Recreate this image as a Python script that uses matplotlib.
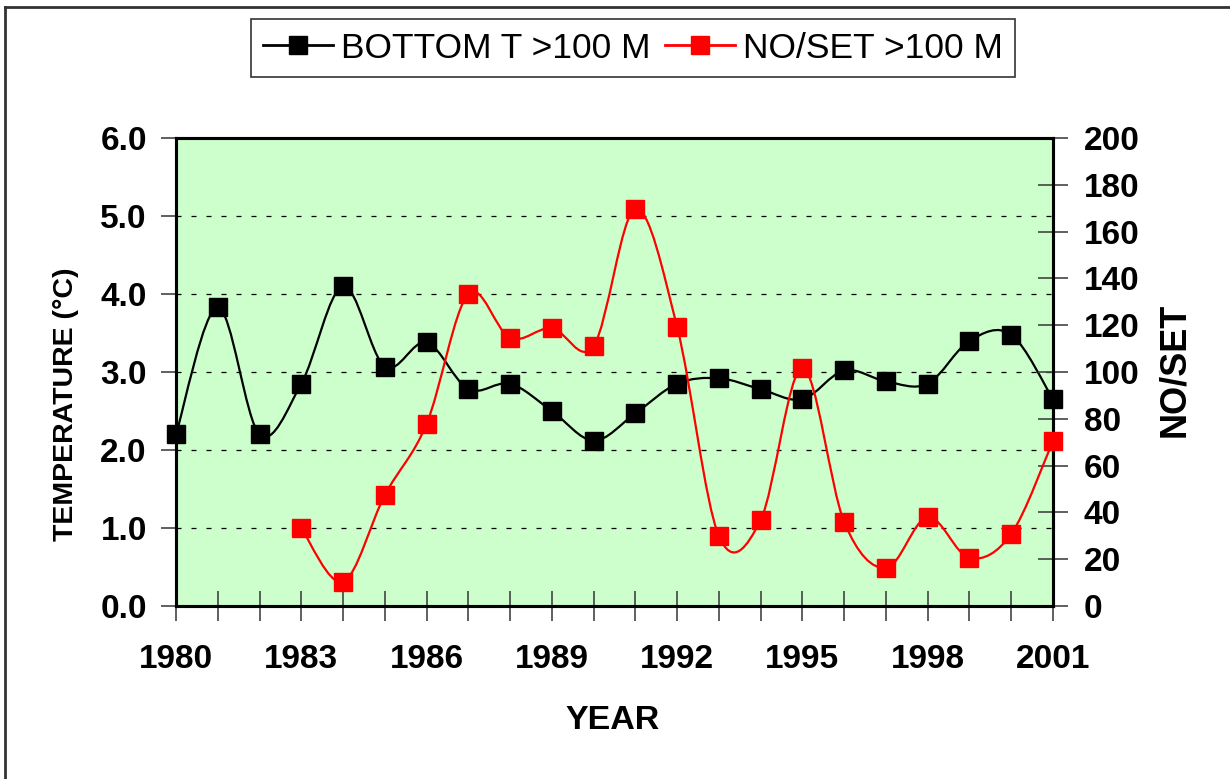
import numpy as np
import matplotlib.pyplot as plt
from matplotlib.path import Path
from matplotlib.patches import PathPatch
from matplotlib.lines import Line2D
from matplotlib.ticker import MultipleLocator

plt.rcParams['font.family'] = ['Liberation Sans', 'DejaVu Sans']

# --- data ---
years_t = np.arange(1980, 2002)
bottom_t = [2.20, 3.83, 2.20, 2.85, 4.10, 3.07, 3.38, 2.78, 2.85, 2.50, 2.12,
            2.47, 2.85, 2.92, 2.78, 2.65, 3.02, 2.88, 2.85, 3.40, 3.48, 2.65]

years_n = np.arange(1983, 2002)
no_set = [33.3, 10.3, 47.4, 77.8, 133.3, 114.5, 118.8, 111.1, 169.7, 119.2,
          29.9, 36.8, 101.7, 35.9, 16.2, 38.0, 20.5, 30.8, 70.5]

x_ticks = [1980, 1983, 1986, 1989, 1992, 1995, 1998, 2001]
legend_labels = ['BOTTOM T >100 M', 'NO/SET >100 M']


def smooth_path(x, y):
    # Excel-style smoothed line: Catmull-Rom segments as cubic Beziers
    p = np.column_stack([x, y]).astype(float)
    n = len(p)
    verts = [p[0]]
    codes = [Path.MOVETO]
    for i in range(n - 1):
        p0 = p[i - 1] if i > 0 else p[i]
        p3 = p[i + 2] if i + 2 < n else p[i + 1]
        c1 = p[i] + (p[i + 1] - p0) / 6.0
        c2 = p[i + 1] - (p3 - p[i]) / 6.0
        verts += [c1, c2, p[i + 1]]
        codes += [Path.CURVE4] * 3
    return Path(verts, codes)


fig = plt.figure(figsize=(12.3, 7.79), dpi=100)
ax = fig.add_axes([176 / 1230, 1 - 606 / 779, 877 / 1230, 468 / 779])
ax.set_facecolor('#ccffcc')
ax2 = ax.twinx()

# temperature series
ax.add_patch(PathPatch(smooth_path(years_t, bottom_t), fill=False,
                       edgecolor='black', lw=1.6, zorder=3))
ax.plot(years_t, bottom_t, ls='none', marker='s', ms=13.5, color='black',
        clip_on=False, zorder=4)

# NO/SET series
ax2.add_patch(PathPatch(smooth_path(years_n, no_set), fill=False,
                        edgecolor='red', lw=1.6, zorder=3))
ax2.plot(years_n, no_set, ls='none', marker='s', ms=13.5, color='red',
         clip_on=False, zorder=4)

ax.set_xlim(1980, 2001)
ax.set_ylim(0, 6)
ax2.set_ylim(0, 200)

ax.set_xticks(x_ticks)
ax.xaxis.set_minor_locator(MultipleLocator(1))
ax.set_yticks(np.arange(0, 6.1, 1.0))
ax.set_yticklabels([f'{v:.1f}' for v in np.arange(0, 6.1, 1.0)])
ax2.set_yticks(np.arange(0, 201, 20))

ax.yaxis.grid(True, color='black', ls=(0, (4, 8)), lw=0.9)
ax.set_axisbelow(True)

ax.tick_params(axis='x', which='both', direction='inout', length=22, width=1.2,
               color='#444444', labelsize=24, pad=16)
ax.tick_params(axis='y', direction='out', length=11, width=1.2,
               color='#444444', labelsize=24, pad=10)
ax2.tick_params(axis='y', direction='inout', length=22, width=1.2,
                color='#444444', labelsize=24, pad=11)
for lab in ax.get_xticklabels() + ax.get_yticklabels() + ax2.get_yticklabels():
    lab.set_fontweight('bold')

for a in (ax, ax2):
    for s in a.spines.values():
        s.set_linewidth(2.2)

ax.set_ylabel('TEMPERATURE (°C)', fontsize=20.5, fontweight='bold')
ax.yaxis.set_label_coords((79 - 176) / 877, (606 - 404) / 468)
ax2.set_ylabel('NO/SET', fontsize=26, fontweight='bold', rotation=90)
ax2.yaxis.set_label_coords((1157 - 176) / 877, (606 - 370) / 468)
ax.set_xlabel('YEAR', fontsize=24.5, fontweight='bold')
ax.xaxis.set_label_coords((613 - 176) / 877, (606 - 705) / 468)

handles = [
    Line2D([], [], color='black', lw=2, marker='s', ms=13.5),
    Line2D([], [], color='red', lw=2, marker='s', ms=13.5),
]
leg = fig.legend(handles, legend_labels, loc='center',
                 bbox_to_anchor=(633 / 1230, 1 - 48 / 779), ncol=2,
                 frameon=True, fancybox=False,
                 prop={'family': 'Liberation Sans', 'size': 25.5},
                 handlelength=1.98, handletextpad=0.23, columnspacing=0.4,
                 borderpad=0.34)
leg.get_frame().set_edgecolor('black')
leg.get_frame().set_linewidth(1.2)

# outer border (top and left visible)
fig.add_artist(Line2D([5 / 1230, 5 / 1230], [0, 1 - 7 / 779],
                      color='#333333', lw=2, transform=fig.transFigure))
fig.add_artist(Line2D([5 / 1230, 1], [1 - 7 / 779, 1 - 7 / 779],
                      color='#333333', lw=2, transform=fig.transFigure))

fig.savefig('out.png', dpi=100)
